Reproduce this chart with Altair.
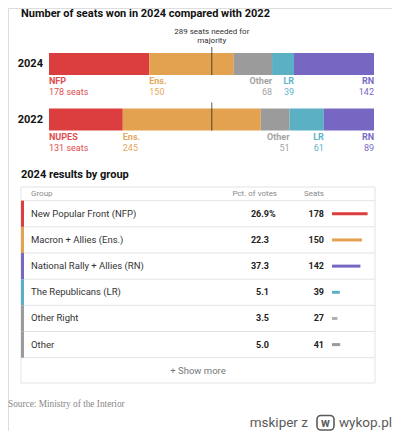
import altair as alt
import pandas as pd

# ---------------- data ----------------
TITLE_TOP = "Number of seats won in 2024 compared with 2022"
TITLE_TABLE = "2024 results by group"
YEARS = ["2024", "2022"]
PARTY_LABELS_2024 = ["NFP", "Ens.", "Other", "LR", "RN"]
PARTY_LABELS_2022 = ["NUPES", "Ens.", "Other", "LR", "RN"]
SEATS_2024 = [178, 150, 68, 39, 142]
SEATS_2022 = [131, 245, 51, 61, 89]
BAR_COLORS = ["#dc3e3f", "#e3a24f", "#9b9b9b", "#5bb0c3", "#7767c2"]
LABEL_COLORS = ["#e04b4c", "#e6a95c", "#a3a3a3", "#5fb3cb", "#7a6bc6"]
LABEL_ALIGN = ["left", "left", "right", "right", "right"]
TOTAL_SEATS = 577
MAJORITY = 289
MAJORITY_NOTE = ["289 seats needed for", "majority"]

GROUPS = [
    "New Popular Front (NFP)",
    "Macron + Allies (Ens.)",
    "National Rally + Allies (RN)",
    "The Republicans (LR)",
    "Other Right",
    "Other",
]
GROUP_PCT = [26.9, 22.3, 37.3, 5.1, 3.5, 5.0]
GROUP_SEATS = [178, 150, 142, 39, 27, 41]
GROUP_COLORS = ["#dc3e3f", "#e3a24f", "#7767c2", "#5bb0c3", "#9b9b9b", "#9b9b9b"]
MINI_COLORS = ["#dc3e3f", "#e3a24f", "#7767c2", "#5bb0c3", "#b0b0b0", "#9b9b9b"]
TABLE_HEADERS = ["Group", "Pct. of votes", "Seats"]
SHOW_MORE = "+ Show more"
SOURCE = "Source: Ministry of the Interior"
WATERMARK = ["mskiper z", "w", "wykop.pl"]

SANS = "Roboto"
SERIF = "Liberation Serif"

# ---------------- tables ----------------
rows = []
for year, labels, seats in [("2024", PARTY_LABELS_2024, SEATS_2024),
                            ("2022", PARTY_LABELS_2022, SEATS_2022)]:
    cum = 0
    for i, (lab, s) in enumerate(zip(labels, seats)):
        start, end = cum, cum + s
        cum = end
        rows.append({
            "year": year, "label": lab, "seats": s,
            "start": start, "end": end,
            "anchor": start if LABEL_ALIGN[i] == "left" else end,
            "align": LABEL_ALIGN[i],
            "seat_text": f"{s} seats" if i == 0 else str(s),
            "color": BAR_COLORS[i], "label_color": LABEL_COLORS[i],
        })
bars_df = pd.DataFrame(rows)
years_df = pd.DataFrame({"year": YEARS, "zero": [0, 0], "maj": [MAJORITY, MAJORITY]})
groups_df = pd.DataFrame({
    "group": GROUPS, "pct": GROUP_PCT, "seats": GROUP_SEATS,
    "color": GROUP_COLORS, "mini": MINI_COLORS,
    "first": [True] + [False] * (len(GROUPS) - 1),
})

# ---------------- scales ----------------
seat_x = alt.Scale(domain=[0, TOTAL_SEATS], range=[41, 366])
year_y = alt.Scale(type="band", domain=YEARS, range=[45, 122.5],
                   paddingInner=0.604, paddingOuter=0)
group_y = alt.Scale(type="band", domain=GROUPS, range=[192.7, 349.7],
                    paddingInner=0, paddingOuter=0)
mini_x = alt.Scale(domain=[0, TOTAL_SEATS], range=[324, 324 + 0.2 * TOTAL_SEATS])

one = pd.DataFrame({"k": [0]})


def text_layer(txt, x, y, **kw):
    return alt.Chart(pd.DataFrame({"t": [txt]})).mark_text(**kw).encode(
        x=alt.value(x), y=alt.value(y), text="t:N")


# ---------------- top section ----------------
title_top = text_layer(TITLE_TOP, 13, 5.5, align="left", baseline="middle",
                       font=SANS, fontSize=11, fontWeight="bold", color="#121212")

note = alt.Chart(pd.DataFrame({"maj": [MAJORITY]})).mark_text(
    text=MAJORITY_NOTE, align="center", baseline="top", font=SANS,
    fontSize=8, lineHeight=9.5, color="#333333"
).encode(x=alt.X("maj:Q", scale=seat_x, axis=None), y=alt.value(19.5))

yy = alt.Y("year:N", scale=year_y, axis=None)

bars = alt.Chart(bars_df).mark_bar().encode(
    x=alt.X("start:Q", scale=seat_x, axis=None),
    x2="end:Q",
    y=yy,
    color=alt.Color("color:N", scale=None),
)

maj_line = alt.Chart(years_df).mark_tick(
    thickness=1, size=28, color="#1a1a1a", yOffset=-3
).encode(
    x=alt.X("maj:Q", scale=seat_x, axis=None),
    y=yy,
)

year_labels = alt.Chart(years_df).mark_text(
    align="right", baseline="middle", dx=-6, font=SANS, fontSize=11,
    fontWeight="bold", color="#121212"
).encode(
    x=alt.X("zero:Q", scale=seat_x, axis=None),
    y=yy,
    text="year:N",
)


def party_text(align, field, dy, weight):
    return alt.Chart(bars_df).transform_filter(
        alt.datum.align == align
    ).mark_text(
        align=align, baseline="middle", yOffset=dy, font=SANS,
        fontSize=9, fontWeight=weight
    ).encode(
        x=alt.X("anchor:Q", scale=seat_x, axis=None),
        y=yy,
        text=f"{field}:N",
        color=alt.Color("label_color:N", scale=None),
    )


party_names = [party_text(a, "label", 17.5, "bold") for a in ("left", "right")]
party_seats = [party_text(a, "seat_text", 28, "normal") for a in ("left", "right")]

# ---------------- table section ----------------
title_table = text_layer(TITLE_TABLE, 13, 167, align="left", baseline="middle",
                         font=SANS, fontSize=11, fontWeight="bold", color="#121212")

box = alt.Chart(one).mark_rect(fill="white", stroke="#e3e3e3", strokeWidth=1).encode(
    x=alt.value(13), x2=alt.value(367), y=alt.value(179), y2=alt.value(375))

header_line = alt.Chart(one).mark_rule(color="#e3e3e3").encode(
    x=alt.value(13), x2=alt.value(367), y=alt.value(192.7))

hdr_kw = dict(baseline="middle", font=SANS, fontSize=8, color="#8a8a8a")
headers = [
    text_layer(TABLE_HEADERS[0], 23, 185.5, align="left", **hdr_kw),
    text_layer(TABLE_HEADERS[1], 269, 185.5, align="right", **hdr_kw),
    text_layer(TABLE_HEADERS[2], 316, 185.5, align="right", **hdr_kw),
]

gy = alt.Y("group:N", scale=group_y, axis=None)

row_lines = alt.Chart(groups_df).mark_rule(color="#e3e3e3", yOffset=13.08).encode(
    y=gy, x=alt.value(13), x2=alt.value(367))

accents = alt.Chart(groups_df).mark_bar().encode(
    y=gy, x=alt.value(13), x2=alt.value(16),
    color=alt.Color("color:N", scale=None))

names = alt.Chart(groups_df).mark_text(
    align="left", baseline="middle", font=SANS, fontSize=9.5, color="#333333"
).encode(y=gy, x=alt.value(23), text="group:N")

pcts = alt.Chart(groups_df).mark_text(
    align="right", baseline="middle", font=SANS, fontSize=9, fontWeight="bold",
    color="#222222"
).encode(y=gy, x=alt.value(261), text=alt.Text("pct:Q", format=".1f"))

pct_sign = alt.Chart(groups_df).transform_filter(alt.datum.first).mark_text(
    text="%", align="left", baseline="middle", font=SANS, fontSize=9,
    fontWeight="bold", color="#222222"
).encode(y=gy, x=alt.value(261))

seat_nums = alt.Chart(groups_df).mark_text(
    align="right", baseline="middle", font=SANS, fontSize=9, fontWeight="bold",
    color="#222222"
).encode(y=gy, x=alt.value(316), text="seats:Q")

mini = alt.Chart(groups_df).mark_bar(size=3).encode(
    y=gy, x=alt.X("seats:Q", scale=mini_x, axis=None),
    color=alt.Color("mini:N", scale=None))

show_more = text_layer(SHOW_MORE, 190, 363, align="center", baseline="middle",
                       font=SANS, fontSize=9.5, color="#777777")

source = text_layer(SOURCE, 0, 396, align="left", baseline="middle",
                    font=SERIF, fontSize=9.3, color="#888888")

wm_kw = dict(baseline="middle", font=SANS, fontSize=13.5, color="#5a5a5a")
wm1 = text_layer(WATERMARK[0], 300, 415, align="right", **wm_kw)
wm_box = alt.Chart(one).mark_rect(
    fill="white", stroke="#5a5a5a", strokeWidth=1.6, cornerRadius=4
).encode(x=alt.value(309), x2=alt.value(326), y=alt.value(407.5), y2=alt.value(422))
wm_logo = text_layer(WATERMARK[1], 317.5, 414.5, align="center", fontWeight="bold",
                     **{**wm_kw, "fontSize": 12})
wm2 = text_layer(WATERMARK[2], 384, 415, align="right", **wm_kw)

layers = [title_top, note, bars, maj_line, year_labels, *party_names, *party_seats,
          title_table, box, header_line, *headers, row_lines, accents, names,
          pcts, pct_sign, seat_nums, mini, show_more, source,
          wm1, wm_box, wm_logo, wm2]

chart = alt.layer(*layers).resolve_scale(
    x="independent", y="independent"
).properties(
    width=384, height=423, padding=0,
    autosize=alt.AutoSizeParams(type="none"),
).configure_view(stroke=None).configure(background="white")

chart.save("out.html", embed_options={"renderer": "svg", "actions": False})
